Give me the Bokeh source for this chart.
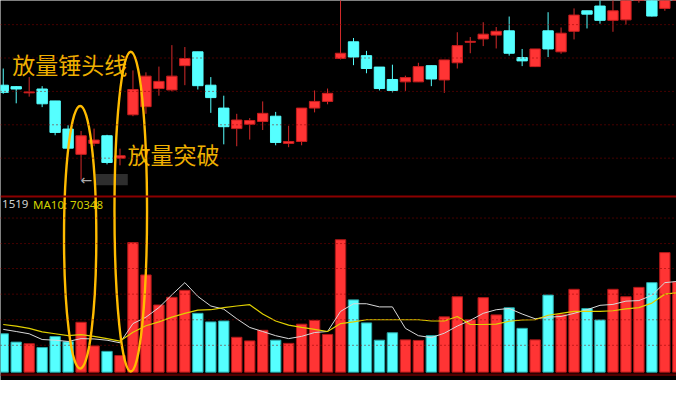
from bokeh.plotting import figure
from bokeh.models import Range1d, Span
from bokeh.core.properties import value
from bokeh.embed import file_html
from bokeh.resources import INLINE

# ---------------- data ----------------
opens  = [11.33, 11.30, 11.17, 11.25, 11.00, 10.41, 9.88, 10.11, 10.27, 9.80,
          10.71, 10.88, 11.26, 11.23, 11.74, 12.03, 11.33, 10.85, 10.42, 10.51,
          10.57, 10.68, 10.11, 10.15, 10.85, 10.99, 11.89, 12.24, 11.95, 11.71,
          11.45, 11.40, 11.40, 11.74, 11.44, 11.80, 12.23, 12.30, 12.38, 12.47,
          11.91, 11.72, 12.47, 12.03, 12.46, 12.89, 12.99, 12.69, 12.70, 13.20,
          13.40, 12.94, 13.20]
highs  = [11.68, 11.31, 11.50, 11.31, 11.00, 10.49, 10.37, 10.42, 10.29, 10.00,
          11.64, 11.60, 11.72, 12.17, 12.13, 12.03, 11.50, 11.11, 10.73, 10.64,
          10.99, 10.77, 10.48, 10.85, 11.22, 11.26, 13.30, 12.32, 12.05, 11.71,
          11.76, 11.53, 11.80, 11.74, 11.86, 12.44, 12.34, 12.65, 12.55, 12.77,
          12.09, 12.09, 12.86, 12.54, 12.94, 12.89, 13.15, 13.20, 13.40, 13.55,
          13.50, 13.40, 13.70]
lows   = [11.15, 10.95, 11.09, 10.87, 10.28, 10.00, 9.35, 10.05, 9.67, 9.65,
          10.68, 10.73, 11.11, 11.20, 11.33, 11.24, 10.75, 10.09, 10.05, 10.19,
          10.39, 10.07, 10.03, 10.07, 10.76, 10.93, 11.87, 11.75, 11.58, 11.22,
          11.18, 11.21, 11.40, 11.31, 11.17, 11.68, 12.00, 12.15, 12.10, 11.95,
          11.73, 11.71, 11.92, 11.99, 12.29, 12.52, 12.62, 12.45, 12.60, 13.06,
          12.77, 12.89, 13.15]
closes = [11.18, 11.25, 11.19, 10.94, 10.34, 10.01, 10.27, 10.18, 9.71, 9.85,
          11.24, 11.52, 11.41, 11.52, 11.89, 11.32, 11.07, 10.46, 10.60, 10.59,
          10.74, 10.13, 10.15, 10.85, 10.99, 11.16, 12.00, 11.92, 11.68, 11.26,
          11.22, 11.49, 11.72, 11.46, 11.86, 12.16, 12.25, 12.40, 12.46, 12.00,
          11.84, 12.09, 12.09, 12.42, 12.80, 12.82, 12.69, 12.89, 13.25, 13.45,
          12.78, 13.30, 13.60]
volumes = [34000, 26600, 25200, 21800, 31500, 26900, 44200, 23200, 18400, 14700,
           114800, 86100, 59500, 66300, 72500, 52100, 44500, 45300, 30900, 27700,
           37100, 28300, 25500, 42500, 45900, 33400, 117300, 64000, 43600, 28300,
           34900, 28600, 28100, 32300, 49000, 66800, 46400, 66000, 50700, 57000,
           38800, 28600, 68300, 51000, 73400, 56400, 46200, 73400, 66800, 75100,
           79300, 105900, 79900]
ma5 = [37900, 36000, 34000, 28900, 28300, 27200, 29700, 29400, 28300, 26000,
       43000, 48700, 57200, 68500, 79300, 67100, 58600, 55800, 47300, 39600,
       36000, 32300, 29700, 31700, 35100, 36000, 53800, 60600, 60600, 57800,
       57800, 38800, 32300, 30600, 34500, 40800, 45900, 52100, 55300, 56400,
       51500, 47300, 48700, 49300, 52100, 55300, 59200, 60000, 62900, 63400,
       68000, 79300, 80400]
ma10 = [42200, 40800, 38800, 35700, 34000, 32300, 33200, 31700, 29700, 27500,
        35400, 41100, 44500, 48700, 52100, 54900, 55300, 57200, 58600, 59800,
        51500, 45300, 41700, 39600, 37900, 36000, 43000, 44500, 46400, 46400,
        46400, 46400, 46400, 45300, 45300, 49300, 42200, 42200, 42500, 45100,
        46200, 46400, 50400, 52100, 53800, 53800, 53800, 54400, 56100, 57200,
        61200, 69100, 70500]
price_grid = [9.80, 10.50, 11.20, 11.90, 12.60]
vol_grid = [23800, 46400, 69100, 91800, 113900, 136500]
vol_separator = 155550
vol_bottom_line = -2295
header_ma5 = "1519"
header_ma10 = "MA10: 70348"
label_hammer = "放量锤头线"
label_break = "放量突破"
hammer_idx = 6
break_idx = 10

# ---------------- styles ----------------
RED = "#ff3434"
RED_WICK = "#d42a2a"
RED_EDGE = "#c81e1e"
CYAN = "#55ffff"
GRID = "#8a0000"
GOLD = "#ffbb00"
TEXT_GOLD = "#eeb000"

n = len(opens)
xs = list(range(n))
up = [c >= o for o, c in zip(opens, closes)]
cols = [RED if u else CYAN for u in up]
wick_cols = [RED_WICK if u else CYAN for u in up]
edge_cols = [RED_EDGE if u else CYAN for u in up]
vol_line = ["#b01818" if u else "#2aa8a8" for u in up]
body_top = [max(o, c) for o, c in zip(opens, closes)]
body_bot = [min(o, c) for o, c in zip(opens, closes)]
body_bot = [b if t - b > 0.02 else t - 0.02 for t, b in zip(body_top, body_bot)]

p = figure(width=676, height=380, output_backend="svg", toolbar_location=None,
           x_range=Range1d(-0.211, 51.898), y_range=Range1d(5.138, 13.106),
           x_axis_location=None, y_axis_location=None, min_border=0,
           background_fill_color="black", border_fill_color="black",
           outline_line_color=None)
p.extra_y_ranges = {"vol": Range1d(-7395, 329205)}
p.grid.visible = False

# grid lines
for g in price_grid:
    p.add_layout(Span(location=g, dimension="width", line_color=GRID,
                      line_dash="1 3", line_width=1))
for g in vol_grid:
    p.add_layout(Span(location=g, dimension="width", line_color=GRID,
                      line_dash="1 3", line_width=1, y_range_name="vol"))
p.add_layout(Span(location=vol_separator, dimension="width", line_color="#8b0000",
                  line_width=2, y_range_name="vol"))
p.add_layout(Span(location=vol_bottom_line, dimension="width", line_color="#500000",
                  line_width=2.5, y_range_name="vol"))

# candles
p.segment(x0=xs, y0=highs, x1=xs, y1=lows, line_color=wick_cols, line_width=1)
p.vbar(x=xs, width=0.8, top=body_top, bottom=body_bot, fill_color=cols,
       line_color=edge_cols, line_width=1)

# volume
p.vbar(x=xs, width=0.8, top=volumes, bottom=0, fill_color=cols,
       line_color=vol_line, line_width=1, y_range_name="vol")
p.line(xs, ma5, line_color="#d8d8d8", line_width=1, y_range_name="vol")
p.line(xs, ma10, line_color="#e0d000", line_width=1.2, y_range_name="vol")

# header texts
p.text(x=[-0.09], y=[148580], text=[header_ma5], text_color="#d0d0d0",
       text_font=value("Noto Sans"), text_font_size="11.5px", text_align="left",
       text_baseline="middle", y_range_name="vol")
p.text(x=[2.30], y=[148580], text=[header_ma10], text_color="#d2d200",
       text_font=value("Noto Sans"), text_font_size="11.5px", text_align="left",
       text_baseline="middle", y_range_name="vol")

# low-price marker
p.quad(left=[hammer_idx + 1.1], right=[hammer_idx + 3.6],
       bottom=[lows[hammer_idx] - 0.12], top=[lows[hammer_idx] + 0.12],
       fill_color="#2e2e2e", line_color=None)
p.text(x=[hammer_idx - 0.05], y=[lows[hammer_idx]], text=["←"], text_color="#aaaaaa",
       text_font=value("DejaVu Sans"), text_font_size="14px", text_align="left",
       text_baseline="middle")

# annotation texts
p.text(x=[0.69], y=[11.78], text=[label_hammer], text_color=TEXT_GOLD,
       text_font=value("Noto Sans CJK SC"), text_font_size="23px",
       text_align="left", text_baseline="middle")
p.text(x=[9.58], y=[9.89], text=[label_break], text_color=TEXT_GOLD,
       text_font=value("Noto Sans CJK SC"), text_font_size="23px",
       text_align="left", text_baseline="middle")

# ellipses
p.ellipse(x=[hammer_idx - 0.07], y=[8.14], width=[2.49], height=[5.51],
          fill_alpha=0, line_color=GOLD, line_width=2.4)
p.ellipse(x=[break_idx - 0.17], y=[8.68], width=[2.51], height=[6.71],
          fill_alpha=0, line_color=GOLD, line_width=2.4)

open("out.html", "w").write(file_html(p, INLINE))
